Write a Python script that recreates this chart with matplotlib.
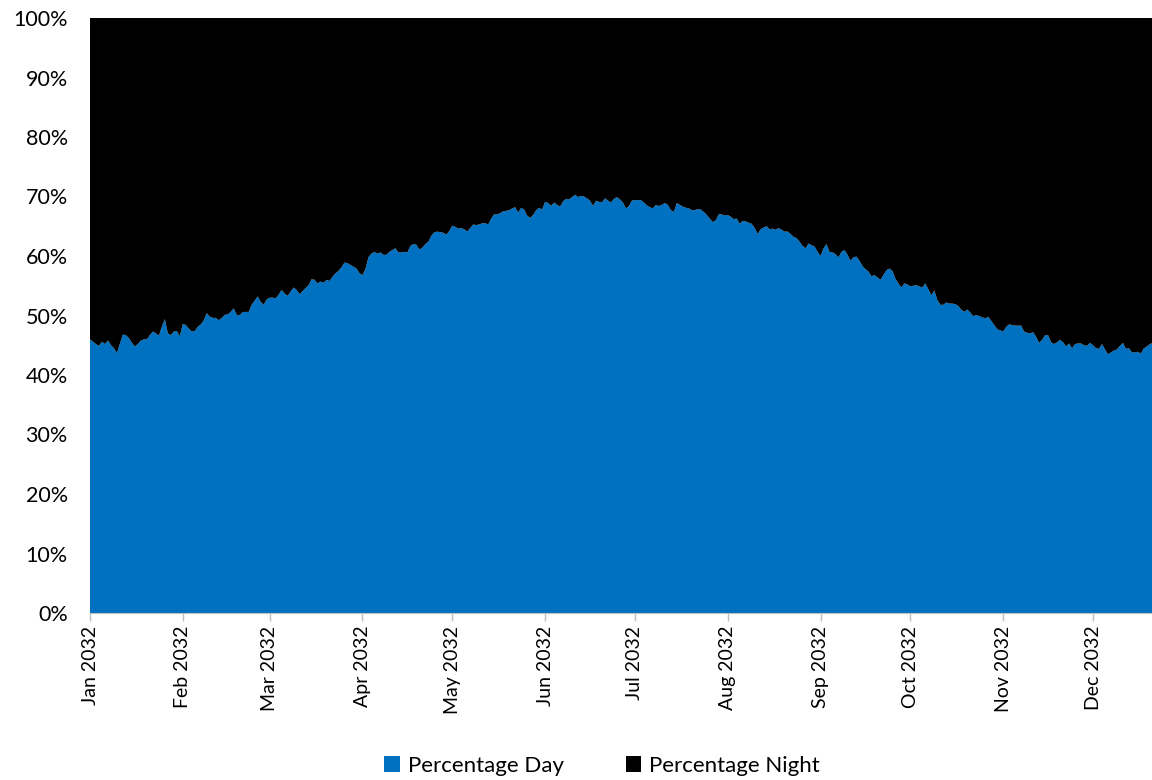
import matplotlib
matplotlib.use("Agg")
import matplotlib.pyplot as plt
import matplotlib.dates as mdates
import numpy as np
import pandas as pd

# daily share of daylight (%), one list per month
jan = [46.0, 45.6, 45.2, 44.9, 45.6, 45.2, 45.8, 45.0, 44.5, 43.7,
       45.3, 46.8, 46.7, 46.2, 45.4, 44.8, 45.2, 45.8, 46.0, 46.0,
       46.7, 47.3, 47.0, 46.6, 48.1, 49.4, 47.0, 46.7, 47.3, 47.4, 46.5]
feb = [48.6, 48.4, 47.8, 47.3, 47.4, 48.1, 48.5, 49.2, 50.4, 49.8,
       49.6, 49.6, 49.2, 49.6, 50.1, 50.2, 50.6, 51.2, 50.1, 50.0,
       50.6, 50.6, 50.6, 51.8, 52.5, 53.2, 52.3, 51.8, 52.7]
mar = [53.0, 53.0, 52.9, 53.5, 54.3, 53.7, 53.3, 54.0, 54.7, 54.3,
       53.6, 54.1, 54.6, 55.1, 56.1, 56.0, 55.4, 55.7, 55.5, 56.0,
       55.8, 56.5, 57.1, 57.5, 58.1, 58.9, 58.8, 58.5, 58.2, 57.9, 57.1]
apr = [56.8, 57.8, 59.8, 60.4, 60.7, 60.4, 60.6, 60.2, 60.2, 60.7,
       61.0, 61.3, 60.6, 60.6, 60.7, 60.6, 61.7, 62.0, 61.9, 61.1,
       61.4, 62.0, 62.4, 63.4, 64.0, 64.1, 64.0, 63.9, 63.6, 64.2]
may = [65.1, 64.9, 64.6, 64.7, 64.5, 64.1, 64.7, 65.3, 65.2, 65.3,
       65.5, 65.5, 65.3, 66.3, 67.0, 67.0, 67.2, 67.5, 67.6, 67.7,
       68.0, 68.2, 67.3, 68.1, 67.8, 66.8, 66.4, 66.9, 67.7, 68.1, 67.8]
jun = [69.1, 68.9, 68.4, 69.0, 68.6, 68.3, 69.2, 69.6, 69.5, 69.9,
       70.3, 69.9, 70.1, 70.0, 69.7, 69.3, 68.4, 69.3, 69.1, 69.0,
       69.7, 69.3, 69.0, 69.6, 69.9, 69.5, 69.0, 68.0, 68.4, 69.3]
jul = [69.4, 69.4, 69.4, 69.0, 68.5, 68.2, 68.0, 68.6, 68.4, 68.6,
       68.9, 68.6, 67.7, 67.4, 68.9, 68.6, 68.3, 68.1, 68.0, 67.7,
       67.7, 67.9, 67.8, 67.4, 66.9, 66.3, 65.7, 66.0, 67.0, 67.0, 66.8]
aug = [66.9, 66.6, 66.2, 66.3, 65.4, 65.9, 65.8, 65.6, 65.4, 64.7,
       63.7, 64.5, 64.8, 65.0, 64.5, 64.6, 64.4, 64.7, 64.4, 64.1,
       64.1, 63.7, 63.2, 63.0, 62.4, 61.7, 61.3, 62.1, 61.8, 61.6, 60.7]
sep = [60.0, 61.3, 62.0, 60.7, 60.6, 60.3, 59.8, 60.7, 61.0, 60.2,
       59.2, 59.8, 59.9, 59.2, 58.3, 57.8, 57.4, 56.6, 56.8, 56.4,
       56.0, 56.8, 57.6, 57.9, 57.5, 56.2, 55.4, 54.7, 55.4, 55.2]
oct_ = [54.9, 55.0, 55.1, 54.9, 54.7, 55.4, 54.4, 53.4, 54.2, 52.6,
        51.8, 51.8, 52.2, 52.0, 52.0, 51.9, 51.6, 51.0, 50.6, 51.0,
        50.5, 49.9, 50.1, 49.9, 49.7, 49.5, 49.8, 49.1, 48.4, 47.7, 47.5]
nov = [47.3, 48.1, 48.5, 48.4, 48.3, 48.3, 48.3, 47.3, 47.1, 47.0,
       47.2, 46.4, 45.4, 45.9, 46.7, 46.7, 45.5, 45.2, 45.5, 45.9,
       45.5, 44.8, 45.3, 44.5, 45.2, 45.3, 45.3, 45.0, 44.9, 45.4]
dec = [45.0, 44.5, 44.4, 45.2, 44.3, 43.5, 43.8, 44.1, 44.3, 44.9,
       45.4, 44.4, 44.5, 43.8, 43.8, 43.9, 43.6, 44.5, 44.8, 45.2, 45.4]

day = np.array(jan + feb + mar + apr + may + jun + jul + aug + sep + oct_ + nov + dec)
night = 100 - day
dates = pd.date_range("2032-01-01", periods=len(day), freq="D")

plt.rcParams['font.family'] = ['Lato', 'DejaVu Sans']

fig = plt.figure(figsize=(11.52, 7.8), dpi=100)
ax = fig.add_axes([90 / 1152, 1 - 613 / 780, 1 - 90 / 1152, (613 - 18) / 780])

ax.stackplot(dates, day, night, colors=['#0070C0', '#000000'],
             labels=['Percentage Day', 'Percentage Night'], linewidth=0)

start = pd.Timestamp("2032-01-01")
ax.set_xlim(start, start + pd.Timedelta(days=354.7))
ax.set_ylim(0, 100)

ax.set_yticks(np.arange(0, 101, 10))
ax.set_yticklabels([f"{v}%" for v in range(0, 101, 10)])
ax.xaxis.set_major_locator(mdates.MonthLocator())
ax.xaxis.set_major_formatter(mdates.DateFormatter("%b %Y"))
plt.setp(ax.get_xticklabels(), rotation=90)

ax.tick_params(axis='x', length=6, width=1, color='#bfbfbf', labelsize=14, pad=3)
ax.tick_params(axis='y', length=0, labelsize=15.5, pad=16)
for s in ['top', 'right', 'left']:
    ax.spines[s].set_visible(False)
ax.spines['bottom'].set_color('#bfbfbf')

handles, labels = ax.get_legend_handles_labels()
fig.legend(handles, labels, loc='center', bbox_to_anchor=(602 / 1152, 1 - 766 / 780),
           ncol=2, frameon=False, fontsize=16, handlelength=0.7, handleheight=0.7,
           handletextpad=0.35, columnspacing=2.8)

fig.savefig("out.png", dpi=100)
